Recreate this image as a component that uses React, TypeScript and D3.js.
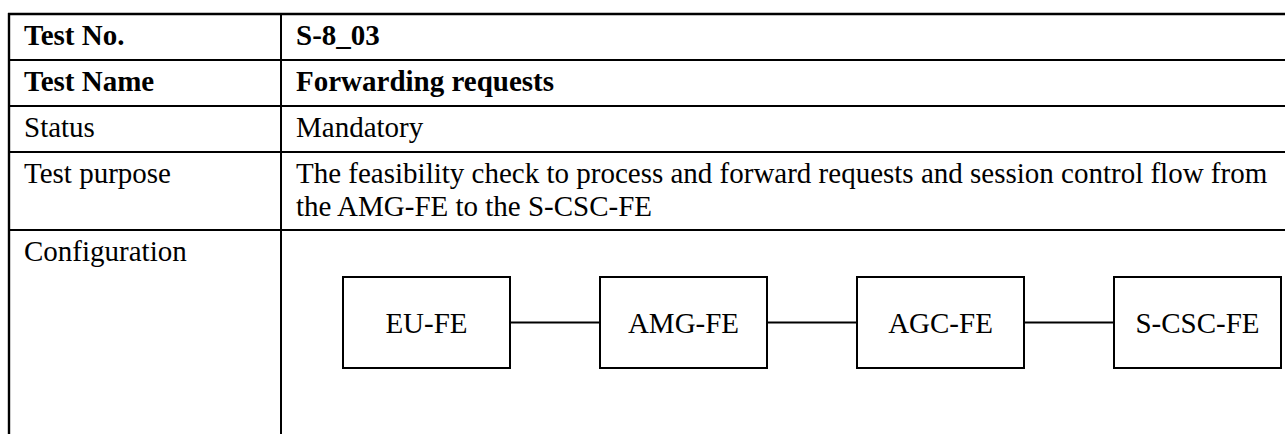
import React from "react";
import * as d3 from "d3";

const rowLabels = ["Test No.", "Test Name", "Status", "Test purpose", "Configuration"];
const rowValues: string[][] = [
  ["S-8_03"],
  ["Forwarding requests"],
  ["Mandatory"],
  [
    "The feasibility check to process and forward requests and session control flow from",
    "the AMG-FE to the S-CSC-FE",
  ],
  [],
];
const boldRows = [true, true, false, false, false];
const rowHeights = [46, 46, 46, 78, 220];
const nodes = ["EU-FE", "AMG-FE", "AGC-FE", "S-CSC-FE"];

const W = 1285;
const H = 434;
const FONT = "'Liberation Serif', 'Times New Roman', serif";
const FS = 29;

export default function App() {
  const tableTop = 14;
  const leftX = 9;
  const colX = 281;
  const rowTops: number[] = [];
  let acc = tableTop;
  rowHeights.forEach((h) => {
    rowTops.push(acc);
    acc += h;
  });

  const xNode = d3.scaleLinear().domain([0, nodes.length - 1]).range([343, 1114]);
  const boxW = 167;
  const boxY = 277;
  const boxH = 91;
  const midY = boxY + boxH / 2;

  return (
    <svg
      width={W}
      height={H}
      style={{ position: "absolute", left: 0, top: 0, display: "block", background: "#fff" }}
    >
      <rect x={0} y={0} width={W} height={H} fill="#fff" />
      {rowTops.map((y, i) => (
        <line
          key={"h" + i}
          x1={leftX - 1}
          x2={W}
          y1={y}
          y2={y}
          stroke="#000"
          strokeWidth={i === 0 ? 2.6 : 2}
        />
      ))}
      <line x1={leftX} x2={leftX} y1={tableTop - 1} y2={H} stroke="#000" strokeWidth={2.4} />
      <line x1={colX} x2={colX} y1={tableTop} y2={H} stroke="#000" strokeWidth={2} />
      {rowLabels.map((lab, i) => (
        <text
          key={"l" + i}
          x={24}
          y={rowTops[i] + 31}
          fontFamily={FONT}
          fontSize={FS}
          fontWeight={boldRows[i] ? "bold" : "normal"}
          fill="#000"
        >
          {lab}
        </text>
      ))}
      {rowValues.map((lines, i) =>
        lines.map((ln, j) => (
          <text
            key={"v" + i + "-" + j}
            x={296}
            y={rowTops[i] + 31 + j * 33}
            fontFamily={FONT}
            fontSize={FS}
            fontWeight={boldRows[i] ? "bold" : "normal"}
            fill="#000"
          >
            {ln}
          </text>
        ))
      )}
      {nodes.slice(0, -1).map((_, i) => (
        <line
          key={"c" + i}
          x1={xNode(i) + boxW}
          x2={xNode(i + 1)}
          y1={midY}
          y2={midY}
          stroke="#000"
          strokeWidth={2}
        />
      ))}
      {nodes.map((n, i) => (
        <g key={"b" + i}>
          <rect
            x={xNode(i)}
            y={boxY}
            width={boxW}
            height={boxH}
            fill="none"
            stroke="#000"
            strokeWidth={2}
          />
          <text
            x={xNode(i) + boxW / 2}
            y={midY + 10}
            textAnchor="middle"
            fontFamily={FONT}
            fontSize={FS}
            fill="#000"
          >
            {n}
          </text>
        </g>
      ))}
    </svg>
  );
}
